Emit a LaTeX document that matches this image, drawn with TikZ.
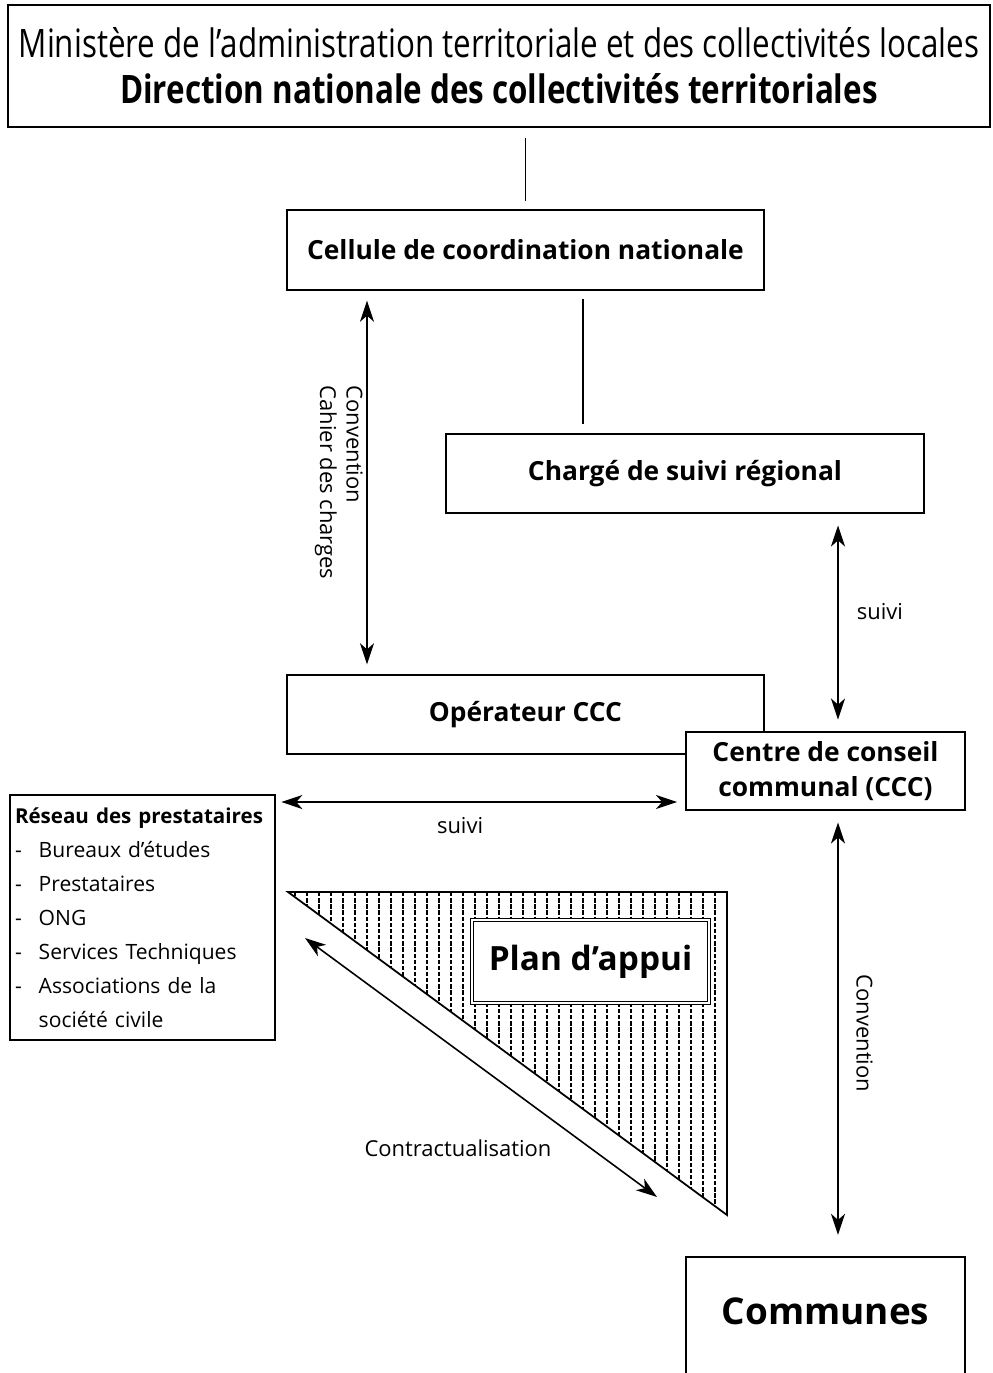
\documentclass[tikz,border=0pt]{standalone}
\usepackage{fontspec}
\setmainfont{Open Sans}
\newfontfamily\condfont[FakeStretch=0.8]{Open Sans}
\usetikzlibrary{positioning,arrows.meta,calc}
\newcommand\unitpx{0.02cm}
\newcommand\listdash{\makebox[13.5pt][l]{-}}

\begin{document}
\begin{tikzpicture}[
    x=\unitpx, y=-\unitpx,
    >={Stealth[length=12pt,width=8pt,inset=3.5pt]},
    box/.style={draw, line width=1.2pt, fill=white, align=center, inner sep=2pt,
      font=\bfseries\fontsize{15}{20}\selectfont},
    arr/.style={<->, line width=0.9pt},
    link/.style={line width=0.6pt},
    lab/.style={font=\fontsize{12.5}{15}\selectfont},
    hatch/.style={line width=0.6pt, dash pattern=on 2.5pt off 1pt},
  ]
\useasboundingbox (0,0) rectangle (992,1373);

% Ministry on top
\node[box, minimum width=982*\unitpx, minimum height=122*\unitpx,
  font=\condfont\fontsize{22.3}{26}\selectfont] (min) at (499,66)
  {Ministère de l’administration territoriale et des collectivités locales\\
   \textbf{Direction nationale des collectivités territoriales}};

% Boxes of the chain
\node[box, minimum width=477*\unitpx, minimum height=80*\unitpx] (cell) at (525.5,250)
  {Cellule de coordination nationale};
\node[box, minimum width=478*\unitpx, minimum height=79*\unitpx] (suivreg) at (685,473.5)
  {Chargé de suivi régional};
\node[box, minimum width=477*\unitpx, minimum height=79*\unitpx] (oper) at (525.5,714.5)
  {Opérateur CCC};
\node[box, minimum width=279*\unitpx, minimum height=78*\unitpx] (ccc) at (825.5,771)
  {Centre de conseil\\communal (CCC)};
\node[box, minimum width=279*\unitpx, minimum height=130*\unitpx, text depth=12pt,
  font=\bfseries\fontsize{21}{24}\selectfont] (comm) at (825.5,1322) {Communes};

% Providers
\node[draw, line width=1.2pt, minimum width=265*\unitpx, minimum height=245*\unitpx,
  text width=255*\unitpx, inner xsep=2pt, align=left,
  font=\fontsize{12}{19.4}\selectfont] (res) at (142.5,917.5)
  {{\fontsize{11.7}{19.4}\selectfont\textbf{Réseau des prestataires}}\\
   \listdash Bureaux d’études\\
   \listdash Prestataires\\
   \listdash ONG\\
   \listdash Services Techniques\\
   \listdash Associations de la\\
   \hspace*{13.5pt}société civile};

% Hatched triangle with the plan
\draw[line width=1pt] (288,892) -- (727,892) -- (727,1215) -- cycle;
\foreach \x in {295,307,...,721}
  \draw[hatch] (\x,892) -- (\x,{892+(\x-288)*0.7358});
\node[draw, double, double distance=1.2pt, line width=0.8pt, fill=white,
  minimum width=237*\unitpx, minimum height=83*\unitpx,
  font=\bfseries\fontsize{19}{21}\selectfont] (plan) at (590.5,961.5) {Plan d’appui};

% Plain links
\coordinate (lx) at (583,0);
\draw[link, shorten <=4.5pt, shorten >=5.5pt] (cell.north) -- (cell.north |- min.south);
\draw[link, shorten <=4.5pt, shorten >=5pt] (cell.south -| lx) -- (suivreg.north -| lx);

% Arrows
\coordinate (ax) at (367,0);
\coordinate (bx) at (838,0);
\coordinate (hy) at (0,802);
\draw[arr, shorten <=5.5pt, shorten >=5.5pt] (cell.south -| ax) -- (oper.north -| ax)
  node[lab, midway, rotate=-90, anchor=north, align=left, inner sep=2pt]
  {Convention\\Cahier des charges};
\draw[arr, shorten <=6.5pt, shorten >=6.5pt] (suivreg.south -| bx) -- (ccc.north -| bx)
  node[lab, pos=0.45, right=7pt] {suivi};
\draw[arr, shorten <=3pt, shorten >=4.5pt] (res.east |- hy) -- (ccc.west |- hy)
  node[lab, pos=0.45, below=5pt] {suivi};
\draw[arr, shorten <=6.5pt, shorten >=12pt] (ccc.south -| bx) -- (comm.north -| bx)
  node[lab, midway, rotate=-90, anchor=south, inner sep=10pt] {Convention};

\coordinate (ca) at (305,938);
\coordinate (cb) at (657,1197);
\draw[arr] (ca) -- (cb);
\node[lab] (contr) at (458,1148) {Contractualisation};

\end{tikzpicture}
\end{document}
